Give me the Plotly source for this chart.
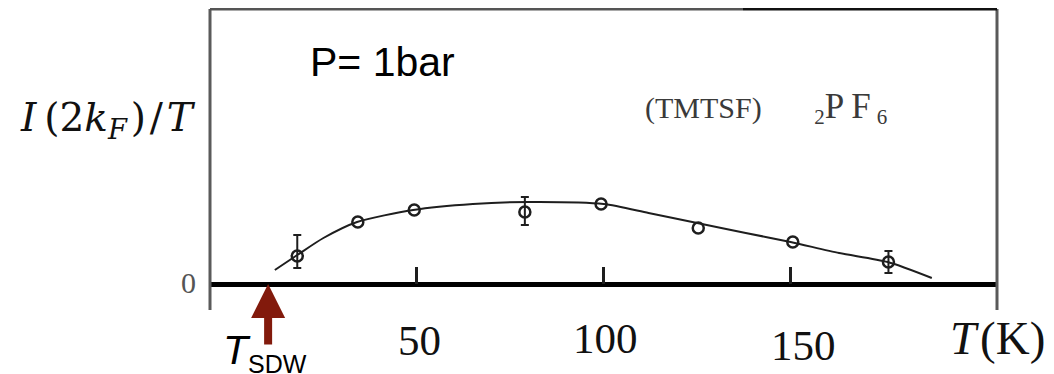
import plotly.graph_objects as go

# ---- data (y in arbitrary units) ----
T_points = [18.0, 34.2, 49.3, 78.9, 99.3, 125.3, 150.6, 176.2]
I_points = [0.28, 0.62, 0.74, 0.72, 0.80, 0.56, 0.42, 0.22]
err_plus = [0.21, 0.0, 0.0, 0.15, 0.0, 0.0, 0.0, 0.11]
err_minus = [0.12, 0.0, 0.0, 0.13, 0.0, 0.0, 0.0, 0.11]

T_curve = [12.0, 18.0, 25.0, 34.0, 49.0, 65.0, 80.0, 100.0, 112.0, 125.0, 138.0, 150.0, 163.0, 176.0, 187.8]
I_curve = [0.14, 0.29, 0.46, 0.62, 0.74, 0.80, 0.82, 0.80, 0.71, 0.61, 0.51, 0.42, 0.31, 0.22, 0.06]

tick_vals = [50, 100, 150]
tick_text = ["50", "100", "150"]
T_SDW = 10.2

# ---- layout geometry (page body adds an 8px offset) ----
OFF = 8
W, H = 1054 - OFF, 374 - OFF
L, R, TOP, B = 210 - OFF, W - (997 - OFF), 1, H - (310 - OFF)
PW, PH = W - L - R, H - TOP - B
ZERO_FROM_BOTTOM = 310 - 284  # px between plot bottom and zero line


def px_x(x):
    """screen pixel x -> paper fraction"""
    return (x - OFF - L) / PW


def px_y(y):
    """screen pixel y -> paper fraction"""
    return (H - B - (y - OFF)) / PH


fig = go.Figure()

# fitted curve
fig.add_trace(go.Scatter(x=T_curve, y=I_curve, mode="lines",
                         line=dict(color="#1e1e1e", width=2, shape="spline", smoothing=0.7),
                         hoverinfo="skip", showlegend=False))

# error bars (only points that have them)
idx = [i for i in range(len(T_points)) if err_plus[i] > 0 or err_minus[i] > 0]
fig.add_trace(go.Scatter(x=[T_points[i] for i in idx], y=[I_points[i] for i in idx],
                         mode="markers", marker=dict(size=1, color="rgba(0,0,0,0)"),
                         error_y=dict(type="data", symmetric=False,
                                      array=[err_plus[i] for i in idx],
                                      arrayminus=[err_minus[i] for i in idx],
                                      color="#1e1e1e", thickness=2, width=4),
                         showlegend=False, hoverinfo="skip"))

# data points
fig.add_trace(go.Scatter(x=T_points, y=I_points, mode="markers",
                         marker=dict(symbol="circle-open", size=11, color="#1e1e1e",
                                     line=dict(width=2.5, color="#1e1e1e")),
                         showlegend=False))

KPX = 3.737  # px per K
X0 = 230 - OFF - L  # px from left of plot to T=0
xr = [-X0 / KPX, (PW - X0) / KPX]
yr = [-ZERO_FROM_BOTTOM / 100, (PH - ZERO_FROM_BOTTOM) / 100]

fig.update_xaxes(range=xr, showgrid=False, zeroline=False, showline=False,
                 anchor="free", position=ZERO_FROM_BOTTOM / PH,
                 tickmode="array", tickvals=tick_vals, ticks="inside",
                 ticklen=17, tickwidth=2.5, tickcolor="#1e1e1e",
                 showticklabels=False)
fig.update_yaxes(range=yr, showgrid=False, zeroline=True, zerolinecolor="black",
                 zerolinewidth=4.5, showline=False, ticks="", showticklabels=False)

# frame (left, right, top)
frame = "#5a5a5a"
shapes = [
    dict(type="line", xref="paper", yref="paper", x0=0, x1=0, y0=0, y1=1,
         line=dict(color=frame, width=3)),
    dict(type="line", xref="paper", yref="paper", x0=1, x1=1, y0=0, y1=1,
         line=dict(color=frame, width=3)),
    dict(type="line", xref="paper", yref="paper", x0=0, x1=px_x(743), y0=1, y1=1,
         line=dict(color="#555555", width=3)),
    dict(type="line", xref="paper", yref="paper", x0=px_x(743), x1=1, y0=1, y1=1,
         line=dict(color="#111111", width=3)),
]
fig.update_layout(shapes=shapes)

serif = "Liberation Serif"
sans = "Liberation Sans"
ann = []
# x tick labels
label_pos = {50: (3, 341), 100: (2, 338), 150: (13, 345)}
for v, t in zip(tick_vals, tick_text):
    dx, yc = label_pos[v]
    ann.append(dict(x=v, xref="x", y=px_y(yc), yref="paper", text=t, showarrow=False,
                    xshift=dx, font=dict(family=serif, size=43, color="#111111"),
                    xanchor="center", yanchor="middle"))
# y "0" label
ann.append(dict(x=px_x(188), xref="paper", y=0, yref="y", text="0", showarrow=False,
                yshift=2, font=dict(family=serif, size=30, color="#555555"),
                xanchor="center", yanchor="middle"))
# axis titles
ann.append(dict(x=px_x(18), xref="paper", y=px_y(120), yref="paper",
                text="<i>I</i>&#8201;(2<i>k</i><sub><i>F</i></sub>&#8202;)&#8202;/&#8202;<i>T</i>",
                showarrow=False,
                font=dict(family="DejaVu Serif", size=39, color="#111111"),
                xanchor="left", yanchor="middle"))
ann.append(dict(x=px_x(948), xref="paper", y=px_y(338), yref="paper",
                text="<i>T</i>&#8202;(K)", showarrow=False,
                font=dict(family=serif, size=47, color="#111111"),
                xanchor="left", yanchor="middle"))
# in-plot labels
ann.append(dict(x=px_x(308), xref="paper", y=px_y(62), yref="paper",
                text="P= 1bar", showarrow=False,
                font=dict(family=sans, size=41, color="black"),
                xanchor="left", yanchor="middle"))
ann.append(dict(x=px_x(643), xref="paper", y=px_y(108), yref="paper",
                text="(TMTSF)&nbsp;&nbsp;&nbsp;&nbsp;&nbsp;&nbsp;&nbsp;<sub>2</sub>"
                     "<span style='font-size:35px'>P&#8201;F</span>&#8201;<sub>6</sub>",
                showarrow=False,
                font=dict(family=serif, size=30, color="#3a3a3a"),
                xanchor="left", yanchor="middle"))
# T_SDW arrow and label
ann.append(dict(x=T_SDW, xref="x", y=0, yref="y", ax=0, ay=62, text="",
                showarrow=True, arrowhead=2, arrowsize=0.85, arrowwidth=8,
                arrowcolor="#821a0c", standoff=0))
ann.append(dict(x=px_x(221), xref="paper", y=px_y(352), yref="paper",
                text="<i>T</i><sub><span style='font-size:25px'>SDW</span></sub>",
                showarrow=False,
                font=dict(family=sans, size=41, color="black"),
                xanchor="left", yanchor="middle"))
fig.update_layout(annotations=ann)

fig.update_layout(width=W, height=H, margin=dict(l=L, r=R, t=TOP, b=B),
                  plot_bgcolor="white", paper_bgcolor="white")

fig.write_html("out.html")
